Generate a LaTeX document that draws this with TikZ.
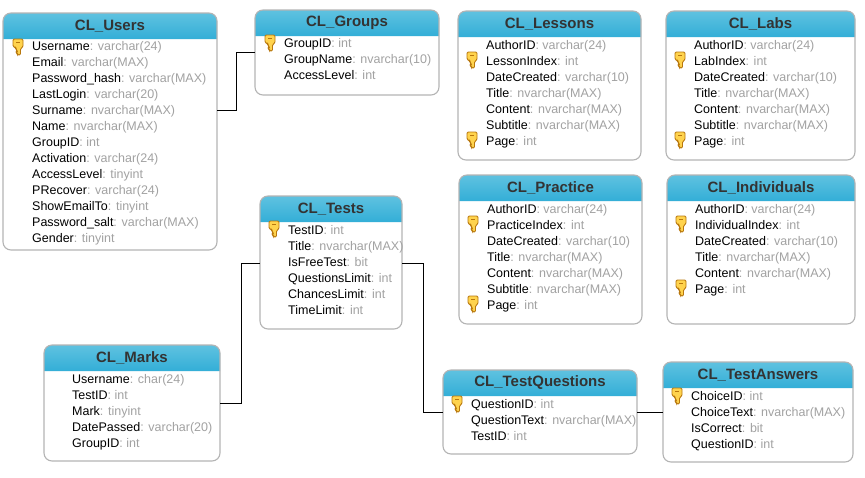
\documentclass[tikz,border=0pt]{standalone}
\usepackage{fontspec}
\setmainfont{Liberation Sans}
\definecolor{edgegray}{HTML}{B4B4B4}
\definecolor{typegray}{HTML}{A2A2A2}
\definecolor{headtop}{HTML}{5FC2E0}
\definecolor{headbot}{HTML}{33AED7}
\definecolor{titlecol}{HTML}{333333}
\definecolor{keyfill}{HTML}{FFD34D}
\definecolor{keyedge}{HTML}{B8770E}
\newcommand{\fd}[2]{#1\textcolor{typegray}{: #2}}
\tikzset{
  tablebox/.style={fill=white,inner sep=0pt,outer sep=0pt,rectangle},
  tableedge/.style={draw=edgegray,line width=1.1pt,rounded corners=8pt},
  headerband/.style={top color=headtop,bottom color=headbot,draw=none},
  titletext/.style={font=\fontsize{15}{17}\selectfont\bfseries,text=titlecol,inner sep=0pt},
  rowtext/.style={font=\fontsize{12.5}{16}\selectfont,align=left,anchor=north west,inner sep=0pt},
  conn/.style={draw=black,line width=1pt},
  keyicon/.pic={
    \path[fill=keyfill,draw=keyedge,line width=.9pt,rounded corners=1.2pt]
      (-5,-8) -- (5,-8) -- (5,0) -- (2.5,1.5) -- (2.5,8) -- (-.5,8) -- (-.5,6.5) -- (-2,5.5) -- (-.5,4) -- (-2,2.5) -- (-2,1) -- (-5,-.5) -- cycle;
    \path[fill=keyedge] (-2,-5.5) rectangle (2,-4);
  }
}
% name, x1,y1,x2,y2, header bottom, title, text x, first row y; rows come from \dbrows
\newcommand{\dbtable}[9]{%
  \pgfmathsetlengthmacro{\tw}{#4-#2}%
  \pgfmathsetlengthmacro{\th}{#5-#3}%
  \node[tablebox,minimum width=\tw,minimum height=\th,rounded corners=8pt] (#1) at ({(#2+#4)/2},{(#3+#5)/2}) {};
  \path[headerband] (#2,#6) [rounded corners=8pt] -- (#2,#3) -- (#4,#3) [sharp corners] -- (#4,#6) -- cycle;
  \draw[tableedge] (#1.north west) rectangle (#1.south east);
  \node[titletext] (#1-title) at ({(#2+#4)/2},{(#3+#6)/2}) {#7};
  \node[rowtext] (#1-rows) at (#8,#9) {\dbrows};
}
\begin{document}
\begin{tikzpicture}[x=1pt,y=-1pt]
\useasboundingbox (0,0) rectangle (865,477);

\def\dbrows{\fd{Username}{varchar(24)}\\\fd{Email}{varchar(MAX)}\\\fd{Password\_hash}{varchar(MAX)}\\\fd{LastLogin}{varchar(20)}\\\fd{Surname}{nvarchar(MAX)}\\\fd{Name}{nvarchar(MAX)}\\\fd{GroupID}{int}\\\fd{Activation}{varchar(24)}\\\fd{AccessLevel}{tinyint}\\\fd{PRecover}{varchar(24)}\\\fd{ShowEmailTo}{tinyint}\\\fd{Password\_salt}{varchar(MAX)}\\\fd{Gender}{tinyint}}
\dbtable{users}{3}{13}{217}{250}{39}{CL\_Users}{32}{41}

\def\dbrows{\fd{GroupID}{int}\\\fd{GroupName}{nvarchar(10)}\\\fd{AccessLevel}{int}}
\dbtable{groups}{255}{10}{439}{95}{36}{CL\_Groups}{284}{38}

\def\dbrows{\fd{AuthorID}{varchar(24)}\\\fd{LessonIndex}{int}\\\fd{DateCreated}{varchar(10)}\\\fd{Title}{nvarchar(MAX)}\\\fd{Content}{nvarchar(MAX)}\\\fd{Subtitle}{nvarchar(MAX)}\\\fd{Page}{int}}
\dbtable{lessons}{458}{11}{641}{160}{37}{CL\_Lessons}{486}{40}

\def\dbrows{\fd{AuthorID}{varchar(24)}\\\fd{LabIndex}{int}\\\fd{DateCreated}{varchar(10)}\\\fd{Title}{nvarchar(MAX)}\\\fd{Content}{nvarchar(MAX)}\\\fd{Subtitle}{nvarchar(MAX)}\\\fd{Page}{int}}
\dbtable{labs}{666}{11}{855}{160}{37}{CL\_Labs}{694}{40}

\def\dbrows{\fd{AuthorID}{varchar(24)}\\\fd{PracticeIndex}{int}\\\fd{DateCreated}{varchar(10)}\\\fd{Title}{nvarchar(MAX)}\\\fd{Content}{nvarchar(MAX)}\\\fd{Subtitle}{nvarchar(MAX)}\\\fd{Page}{int}}
\dbtable{practice}{459}{175}{642}{324}{201}{CL\_Practice}{487}{204}

\def\dbrows{\fd{AuthorID}{varchar(24)}\\\fd{IndividualIndex}{int}\\\fd{DateCreated}{varchar(10)}\\\fd{Title}{nvarchar(MAX)}\\\fd{Content}{nvarchar(MAX)}\\\fd{Page}{int}}
\dbtable{individuals}{667}{175}{855}{324}{201}{CL\_Individuals}{695}{204}

\def\dbrows{\fd{TestID}{int}\\\fd{Title}{nvarchar(MAX)}\\\fd{IsFreeTest}{bit}\\\fd{QuestionsLimit}{int}\\\fd{ChancesLimit}{int}\\\fd{TimeLimit}{int}}
\dbtable{tests}{260}{196}{402}{329}{222}{CL\_Tests}{288}{225}

\def\dbrows{\fd{Username}{char(24)}\\\fd{TestID}{int}\\\fd{Mark}{tinyint}\\\fd{DatePassed}{varchar(20)}\\\fd{GroupID}{int}}
\dbtable{marks}{44}{345}{220}{461}{371}{CL\_Marks}{72}{374}

\def\dbrows{\fd{QuestionID}{int}\\\fd{QuestionText}{nvarchar(MAX)}\\\fd{TestID}{int}}
\dbtable{questions}{443}{370}{637}{454}{396}{CL\_TestQuestions}{471}{399}

\def\dbrows{\fd{ChoiceID}{int}\\\fd{ChoiceText}{nvarchar(MAX)}\\\fd{IsCorrect}{bit}\\\fd{QuestionID}{int}}
\dbtable{answers}{663}{362}{853}{462}{388}{CL\_TestAnswers}{691}{391}

% keys
\foreach \kx/\ky in {18/47,270/43,472/60,472/140,680/60,680/140,473/224,473/304,681/224,681/288,274/229,457/404,677/396}
  \pic at (\kx,\ky) {keyicon};

% connectors
\coordinate (bendA) at (236,81);
\coordinate (bendB) at (241,333);
\coordinate (bendC) at (423,337);
\draw[conn] (users.east |- 0,110) -- (bendA |- 0,110) -- (bendA |- 0,52) -- (groups.west |- 0,52);
\draw[conn] (marks.east |- 0,403) -- (bendB |- 0,403) -- (bendB |- 0,263) -- (tests.west |- 0,263);
\draw[conn] (tests.east |- 0,263) -- (bendC |- 0,263) -- (bendC |- 0,412) -- (questions.west |- 0,412);
\draw[conn] (questions.east |- 0,412) -- (answers.west |- 0,412);
\end{tikzpicture}
\end{document}
